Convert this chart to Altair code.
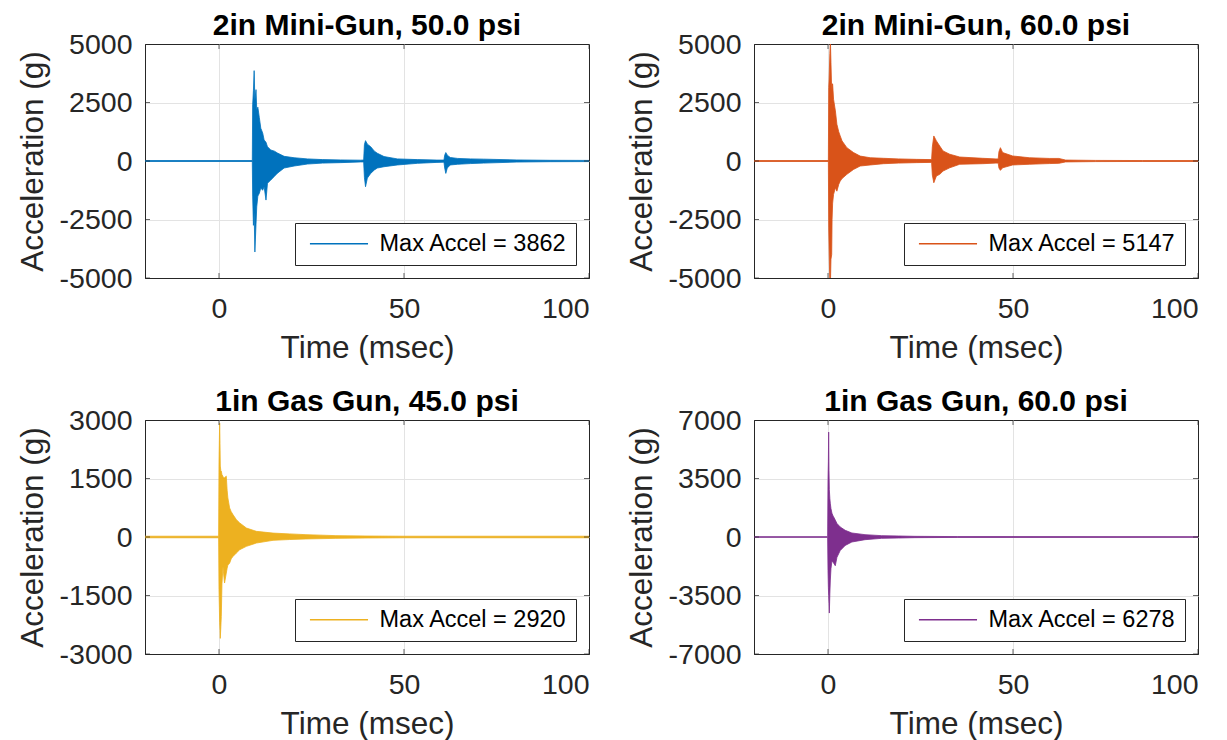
import altair as alt
import pandas as pd

FONT = "Liberation Sans"
TXT = "#262626"
W, H = 444, 234

titles = ["2in Mini-Gun, 50.0 psi", "2in Mini-Gun, 60.0 psi",
          "1in Gas Gun, 45.0 psi", "1in Gas Gun, 60.0 psi"]
colors = ["#0072BD", "#D95319", "#EDB120", "#7E2F8E"]
max_accel = [3862, 5147, 2920, 6278]
y_limits = [5000, 5000, 3000, 7000]
y_ticks = [[-5000, -2500, 0, 2500, 5000],
           [-5000, -2500, 0, 2500, 5000],
           [-3000, -1500, 0, 1500, 3000],
           [-7000, -3500, 0, 3500, 7000]]
x_domain = [-20, 100]
x_ticks = [0, 50, 100]

# Panel 1: 2in Mini-Gun, 50 psi (signal envelope)
t1 = [-20, 9.0, 9.1, 9.3, 9.5, 9.7, 10.0, 10.2, 10.5, 10.9, 11.3, 11.8, 12.2, 12.7,
      13.1, 14.0, 15.0, 15.8, 17.6, 20.3, 23.9, 28.0, 32.9, 38.3, 39.1, 39.3, 39.6,
      40.1, 41.0, 42.0, 42.8, 44.6, 48.2, 53.6, 58.9, 60.8, 61.0, 61.3, 61.7, 62.5,
      64.5, 68.0, 71.5, 80.5, 89.5, 100]
up1 = [20, 20, 2400, 3000, 3862, 2600, 3050, 2200, 2300, 1850, 1400, 1200, 900, 800,
       610, 470, 420, 340, 200, 140, 90, 60, 45, 35, 40, 700, 870,
       720, 610, 420, 330, 190, 90, 60, 40, 40, 250, 360, 250, 150,
       110, 90, 80, 45, 30, 25]
lo1 = [-20, -20, -1500, -2750, -2200, -3890, -2700, -1960, -1500, -1380, -1150, -1250, -1100, -1670,
       -950, -815, -650, -520, -300, -215, -130, -90, -70, -40, -40, -700, -1100,
       -730, -530, -380, -300, -245, -170, -100, -60, -50, -300, -530, -300, -170,
       -140, -110, -90, -45, -30, -25]

# Panel 2: 2in Mini-Gun, 60 psi
t2 = [-20, 0.1, 0.2, 0.3, 0.5, 0.65, 0.8, 1.0, 1.1, 1.25, 1.5, 2.0, 2.4, 2.9, 3.3, 3.8,
      5.1, 6.9, 8.7, 11.4, 15.0, 19.0, 23.9, 28.0, 28.2, 28.6, 29.3, 30.2, 31.1, 32.9,
      35.6, 41.8, 45.4, 46.0, 46.2, 46.6, 47.2, 49.9, 54.4, 59.8, 62.4, 64.2, 72.3, 85.0, 100]
up2 = [20, 20, 3140, 3500, 4600, 5147, 4200, 3000, 3300, 3290, 2640, 2140, 1570, 1250, 1070, 860,
       570, 360, 210, 140, 115, 90, 70, 60, 600, 1070, 860, 640, 430, 290,
       170, 115, 90, 90, 400, 570, 360, 215, 140, 110, 110, 40, 25, 20, 20]
lo2 = [-20, -20, -2860, -3800, -5300, -5300, -4200, -4000, -2500, -1800, -1430, -1140, -1290, -1000, -860, -750,
       -570, -360, -215, -170, -115, -90, -70, -60, -600, -930, -640, -570, -430, -290,
       -140, -115, -90, -90, -300, -400, -290, -170, -140, -110, -100, -40, -25, -20, -20]

# Panel 3: 1in Gas Gun, 45 psi
t3 = [-20, -0.1, 0.0, 0.1, 0.18, 0.27, 0.35, 0.5, 0.62, 0.8, 1.08, 1.3, 1.5, 1.97, 2.2, 2.4,
      2.87, 3.3, 3.77, 4.7, 5.6, 7.4, 10.1, 14.6, 19.0, 23.5, 31.6, 40.0, 50.0, 100]
up3 = [20, 20, 1900, 2500, 2920, 2400, 1820, 1700, 1690, 1600, 1550, 1520, 1520, 1560, 1200, 1000,
       745, 650, 575, 445, 360, 230, 145, 100, 80, 60, 35, 25, 20, 20]
lo3 = [-20, -20, -1350, -1800, -2200, -2400, -2600, -2300, -2040, -1200, -750, -1000, -1180, -925, -800, -720,
       -670, -560, -500, -410, -325, -240, -155, -85, -65, -50, -35, -25, -20, -20]

# Panel 4: 1in Gas Gun, 60 psi
t4 = [-20, -0.1, 0.0, 0.1, 0.18, 0.27, 0.36, 0.5, 0.62, 0.8, 1.07, 1.3, 1.5, 1.97, 2.42,
      3.3, 4.65, 6.45, 10.0, 14.5, 19.0, 23.5, 35.0, 100]
up4 = [20, 20, 3440, 4500, 6278, 4000, 2830, 2300, 2020, 1700, 1420, 1300, 1215, 1010, 810,
       600, 400, 240, 140, 80, 60, 40, 25, 20]
lo4 = [-20, -20, -2020, -3000, -3500, -4000, -4550, -3400, -2630, -1900, -1420, -1500, -1550, -1720, -1215,
       -810, -505, -300, -160, -80, -60, -40, -25, -20]

series = [(t1, up1, lo1), (t2, up2, lo2), (t3, up3, lo3), (t4, up4, lo4)]

# legend line sample drawn as a horizontal path symbol
LEG_PATH = "M-1,0L9,0"
LEG_SIZE = 135


def panel(i):
    t, up, lo = series[i]
    label = f"Max Accel = {max_accel[i]}"
    df = pd.DataFrame({"t": t, "up": up, "lo": lo, "label": label})
    lim = y_limits[i]
    X = alt.X("t:Q", scale=alt.Scale(domain=x_domain, nice=False, zero=False),
              axis=alt.Axis(values=x_ticks, title="Time (msec)", format="d",
                            gridOpacity={"condition": {"test": "datum.value >= 100", "value": 0},
                                         "value": 1}))
    Y = alt.Y("up:Q", scale=alt.Scale(domain=[-lim, lim], nice=False),
              axis=alt.Axis(values=y_ticks[i], title="Acceleration (g)", format="d",
                            labelExpr="replace(datum.label, '\u2212', '-')",
                            gridOpacity={"condition": {"test": f"abs(datum.value) >= {lim}", "value": 0},
                                         "value": 1}))
    area = alt.Chart(df).mark_area(
        clip=True, stroke=colors[i], strokeWidth=0.8, opacity=1, interpolate="linear"
    ).encode(
        x=X, y=Y, y2="lo:Q",
        color=alt.Color("label:N",
                        scale=alt.Scale(domain=[label], range=[colors[i]]),
                        legend=alt.Legend(title=None, orient="bottom-right", offset=13,
                                          symbolType=LEG_PATH, symbolSize=LEG_SIZE,
                                          symbolStrokeWidth=1.3, symbolFillColor="transparent",
                                          symbolStrokeColor=colors[i])),
    )
    # inward tick marks on all four sides (MATLAB box style)
    xt = pd.DataFrame({"t": x_ticks})
    yt = pd.DataFrame({"up": y_ticks[i]})
    tick = dict(clip=True, size=10, thickness=1, color=TXT)
    xb = alt.Chart(xt).mark_tick(**tick).encode(x=X, y=alt.value(H))
    xtp = alt.Chart(xt).mark_tick(**tick).encode(x=X, y=alt.value(0))
    yl = alt.Chart(yt).mark_tick(**tick).encode(y=Y, x=alt.value(0))
    yr = alt.Chart(yt).mark_tick(**tick).encode(y=Y, x=alt.value(W))
    return alt.layer(area, xb, xtp, yl, yr).properties(width=W, height=H, title=titles[i])


chart = alt.concat(
    panel(0), panel(1), panel(2), panel(3),
    columns=2, spacing={"row": 142, "column": 165}, bounds="flush"
).resolve_scale(color="independent").resolve_legend(color="independent").configure_axis(
    labelFont=FONT, labelFontSize=28.5, labelColor=TXT,
    titleFont=FONT, titleFontSize=31.5, titleFontWeight="normal", titleColor=TXT,
    grid=True, gridColor="#e3e3e3", gridWidth=1, domain=True, domainColor=TXT,
    domainWidth=1, ticks=False,
).configure_axisX(labelPadding=16, titlePadding=10).configure_axisY(
    labelPadding=13, titlePadding=10
).configure_view(stroke=TXT, strokeWidth=1).configure_title(
    font=FONT, fontSize=30, fontWeight="bold", color="black", offset=-11
).configure_legend(
    labelFont=FONT, labelFontSize=23.5, labelColor="black", padding=9, labelLimit=0,
    strokeColor=TXT, fillColor="white", labelOffset=52, cornerRadius=0
).properties(padding={"left": 8, "top": 2, "right": 0, "bottom": 0}, background="white")

chart.save("out.html", embed_options={"renderer": "svg", "actions": False})
